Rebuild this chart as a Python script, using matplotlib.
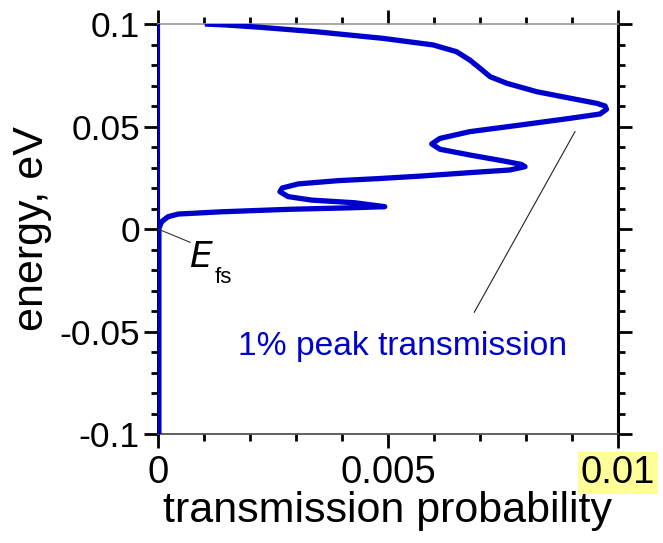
import numpy as np
import matplotlib.pyplot as plt
from matplotlib.ticker import MultipleLocator

plt.rcParams['font.family'] = ['Liberation Sans', 'DejaVu Sans']

# transmission curve (energy in eV)
transmission = [0.00102, 0.00149, 0.00222, 0.00345, 0.00489, 0.00598, 0.00649, 0.00678,
                0.00700, 0.00722, 0.00758, 0.00823, 0.00896, 0.00954, 0.00972, 0.00975,
                0.00961, 0.00896, 0.00787, 0.00678, 0.00613, 0.00595, 0.00613, 0.00678,
                0.00751, 0.00790, 0.00798, 0.00765, 0.00678, 0.00570, 0.00480, 0.00392,
                0.00305, 0.00270, 0.00265, 0.00283, 0.00334, 0.00428, 0.00493, 0.00428,
                0.00283, 0.00138, 0.00044, 0.00022, 0.00008, 0.00002,
                0.00002, 0.00002]
energy = [0.1000, 0.0995, 0.0984, 0.0962, 0.0930, 0.0898, 0.0865, 0.0824,
          0.0784, 0.0743, 0.0711, 0.0670, 0.0638, 0.0613, 0.0600, 0.0584,
          0.0561, 0.0540, 0.0507, 0.0475, 0.0442, 0.0415, 0.0389, 0.0361,
          0.0332, 0.0315, 0.0304, 0.0288, 0.0275, 0.0258, 0.0246, 0.0236,
          0.0220, 0.0200, 0.0182, 0.0158, 0.0141, 0.0128, 0.0109, 0.0104,
          0.0096, 0.0084, 0.0073, 0.0060, 0.0036, 0.0003,
          -0.0500, -0.1000]

# thin trace along zero
zero_x = [0.00003, 0.00003]
zero_y = [-0.1, 0.1]

fig = plt.figure(figsize=(6.63, 5.43), dpi=100)
ax = fig.add_axes([0.2383, 0.2007, 0.6938, 0.7551])

ax.plot(zero_x, zero_y, color='#0000cc', lw=1.5, zorder=3)
ax.plot(transmission, energy, color='#0000cc', lw=3.8, solid_joinstyle='round',
        solid_capstyle='butt', zorder=4)

ax.set_xlim(0, 0.01)
ax.set_ylim(-0.1, 0.1)
ax.xaxis.set_minor_locator(MultipleLocator(0.001))
ax.yaxis.set_minor_locator(MultipleLocator(0.01))
ax.set_xticks([0, 0.005, 0.01])
ax.set_xticklabels(['0', '0.005', '0.01'])
ax.set_yticks([-0.1, -0.05, 0, 0.05, 0.1])
ax.set_yticklabels(['-0.1', '-0.05', '0', '0.05', '0.1'])

ax.tick_params(which='both', direction='out', top=True, right=True, width=2, color='black')
ax.tick_params(which='major', length=10)
ax.tick_params(which='minor', length=5)
ax.tick_params(axis='x', labelsize=27.5, pad=5)
ax.tick_params(axis='y', labelsize=25.5, pad=3)

for side in ['left', 'right']:
    ax.spines[side].set_linewidth(2.2)
    ax.spines[side].set_color('black')
ax.spines['top'].set_linewidth(1.2)
ax.spines['top'].set_color('#999999')
ax.spines['bottom'].set_linewidth(1.2)
ax.spines['bottom'].set_color('#444444')

ax.xaxis.get_ticklabels()[2].set_bbox(dict(facecolor='#ffff99', edgecolor='none', pad=2))

ax.set_xlabel('transmission probability', fontsize=31, labelpad=0)
ax.set_ylabel('energy, eV', fontsize=31, labelpad=5)

# E_fs label
ax.plot([0, 0.0007], [0, -0.0065], color='#333333', lw=0.8, zorder=5)
ax.text(0.00068, -0.0055, '$E$', fontsize=26, va='top', ha='left')
ax.text(0.00124, -0.0185, 'fs', fontsize=16, va='top', ha='left')

# peak annotation
ax.plot([0.009065, 0.006876], [0.0475, -0.0406], color='#222222', lw=0.8, zorder=5)
ax.text(0.00175, -0.0575, '1% peak transmission', fontsize=24.2, color='#0000cc',
        ha='left', va='center')

fig.savefig('out.png', dpi=100)
